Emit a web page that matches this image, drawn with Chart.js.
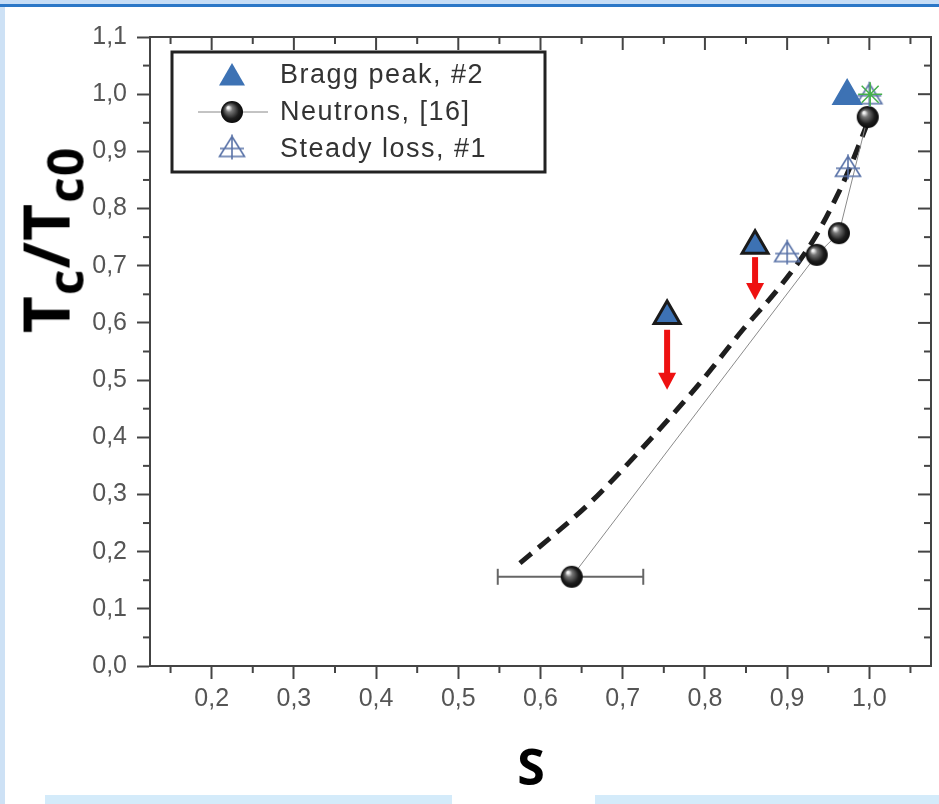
<!DOCTYPE html>
<html lang="en">
<head>
    <meta charset="UTF-8">
    <title>Tc/Tc0 vs S</title>
    <script src="https://cdn.jsdelivr.net/npm/chart.js"></script>
    <style>
        body { margin: 0; background: #fff; }
        #wrap { position: relative; width: 939px; height: 804px; overflow: hidden; }
        .deco { position: absolute; }
        #chart { position: absolute; left: 0; top: 0; }
        .axtitle {
            position: absolute; font-family: "Open Sans", sans-serif; font-weight: bold;
            color: #000; white-space: nowrap; line-height: 1;
        }
        #ytitle {
            left: 52px; top: 240px; font-size: 64px; letter-spacing: 1px;
            transform: translate(-50%, -50%) rotate(-90deg);
        }
        #ytitle sub { font-size: 78%; vertical-align: -0.28em; letter-spacing: 1px; }
        #xtitle { left: 531px; top: 766px; font-size: 50px; transform: translate(-50%, -50%); }
    </style>
</head>
<body>
<div id="wrap">
    <div class="deco" style="left:0;top:0;width:939px;height:4px;background:#c6ddf6"></div>
    <div class="deco" style="left:0;top:4px;width:939px;height:3px;background:#2b77c7"></div>
    <div class="deco" style="left:0;top:7px;width:5px;height:797px;background:#cde1f5"></div>
    <div class="deco" style="left:45px;top:795px;width:407px;height:9px;background:#d4ebfa"></div>
    <div class="deco" style="left:595px;top:795px;width:344px;height:9px;background:#d4ebfa"></div>
    <canvas id="chart" width="939" height="804"></canvas>
    <div id="ytitle" class="axtitle">T<sub>c</sub>/T<sub>c0</sub></div>
    <div id="xtitle" class="axtitle">S</div>
</div>

<script>
// axis ticks
const xTicks = [0.2, 0.3, 0.4, 0.5, 0.6, 0.7, 0.8, 0.9, 1.0];
const xMinor = [0.15, 0.25, 0.35, 0.45, 0.55, 0.65, 0.75, 0.85, 0.95, 1.05];
const yTicks = [0.0, 0.1, 0.2, 0.3, 0.4, 0.5, 0.6, 0.7, 0.8, 0.9, 1.0, 1.1];
const yMinor = [0.05, 0.15, 0.25, 0.35, 0.45, 0.55, 0.65, 0.75, 0.85, 0.95, 1.05];

const legendLabels = ['Bragg peak, #2', 'Neutrons, [16]', 'Steady loss, #1'];

// Bragg peak, #2
const braggX = [0.754, 0.861, 0.973];
const braggY = [0.612, 0.735, 0.997];

// Neutrons, [16]
const neutronX = [0.638, 0.936, 0.963, 0.998];
const neutronY = [0.156, 0.719, 0.757, 0.960];
const neutronErrLow = [0.548, null, null, null];
const neutronErrHigh = [0.725, null, null, null];

// Steady loss, #1
const steadyX = [0.900, 0.974, 1.000];
const steadyY = [0.724, 0.873, 1.000];

// green marker at top right
const starX = [1.001];
const starY = [1.000];

// thick dashed guide curve
const curveX = [0.575, 0.61, 0.66, 0.72, 0.794, 0.846, 0.891, 0.932, 0.964, 0.979, 0.996];
const curveY = [0.180, 0.222, 0.285, 0.375, 0.495, 0.588, 0.663, 0.745, 0.832, 0.881, 0.943];

// red arrows
const arrowX = [0.754, 0.861];
const arrowFrom = [0.588, 0.715];
const arrowTo = [0.483, 0.640];

const pts = (xs, ys) => xs.map((v, i) => ({ x: v, y: ys[i] }));
const fmt = v => v.toFixed(1).replace('.', ',');

// shaded sphere marker
function makeSphere(r) {
    const c = document.createElement('canvas');
    c.width = c.height = r * 2 + 2;
    const g = c.getContext('2d');
    const cx = r + 1, cy = r + 1;
    const grad = g.createRadialGradient(cx - r * 0.35, cy - r * 0.4, 1, cx, cy, r);
    grad.addColorStop(0, '#f2f2f2');
    grad.addColorStop(0.25, '#777');
    grad.addColorStop(0.7, '#1e1e1e');
    grad.addColorStop(1, '#0a0a0a');
    g.fillStyle = grad;
    g.beginPath(); g.arc(cx, cy, r, 0, Math.PI * 2); g.fill();
    return c;
}

// open triangle with cross marker
function makeSteady() {
    const c = document.createElement('canvas');
    c.width = 30; c.height = 27;
    const g = c.getContext('2d');
    g.strokeStyle = '#5a73a8';
    g.lineWidth = 1.6;
    g.beginPath();
    g.moveTo(15, 3); g.lineTo(27.5, 23); g.lineTo(2.5, 23); g.closePath();
    g.moveTo(15, 1); g.lineTo(15, 26);
    g.moveTo(3, 15); g.lineTo(27, 15);
    g.stroke();
    return c;
}

const sphere = makeSphere(11);
const steadyImg = makeSteady();

function line(ctx, x1, y1, x2, y2) {
    ctx.beginPath(); ctx.moveTo(x1, y1); ctx.lineTo(x2, y2); ctx.stroke();
}

// frame on top/right and the extra tick marks
const frameTicks = {
    id: 'frameTicks',
    beforeDatasetsDraw(chart) {
        const { ctx, chartArea: a, scales: { x, y } } = chart;
        ctx.save();
        ctx.strokeStyle = '#444';
        ctx.lineWidth = 2;
        ctx.beginPath();
        ctx.moveTo(a.left, a.top); ctx.lineTo(a.right, a.top); ctx.lineTo(a.right, a.bottom);
        ctx.stroke();
        xTicks.forEach(v => { const p = x.getPixelForValue(v); line(ctx, p, a.top, p, a.top + 13); });
        xMinor.forEach(v => {
            const p = x.getPixelForValue(v);
            line(ctx, p, a.bottom, p, a.bottom + 7);
            line(ctx, p, a.top, p, a.top + 7);
        });
        yTicks.forEach(v => { const p = y.getPixelForValue(v); line(ctx, a.right - 13, p, a.right, p); });
        yMinor.forEach(v => {
            const p = y.getPixelForValue(v);
            line(ctx, a.left - 7, p, a.left, p);
            line(ctx, a.right - 7, p, a.right, p);
        });
        ctx.restore();
    }
};

// horizontal error bars on neutron points
const errorBars = {
    id: 'errorBars',
    beforeDatasetsDraw(chart) {
        const { ctx, scales: { x, y } } = chart;
        ctx.save();
        ctx.strokeStyle = '#666';
        ctx.lineWidth = 2;
        neutronX.forEach((v, i) => {
            if (neutronErrLow[i] == null) return;
            const py = y.getPixelForValue(neutronY[i]);
            const x1 = x.getPixelForValue(neutronErrLow[i]);
            const x2 = x.getPixelForValue(neutronErrHigh[i]);
            line(ctx, x1, py, x2, py);
            line(ctx, x1, py - 8, x1, py + 8);
            line(ctx, x2, py - 8, x2, py + 8);
        });
        ctx.restore();
    }
};

// red downward arrows
const arrows = {
    id: 'arrows',
    afterDatasetsDraw(chart) {
        const { ctx, scales: { x, y } } = chart;
        ctx.save();
        ctx.fillStyle = '#ee1111';
        arrowX.forEach((v, i) => {
            const px = x.getPixelForValue(v);
            const y1 = y.getPixelForValue(arrowFrom[i]);
            const y2 = y.getPixelForValue(arrowTo[i]);
            const head = 17;
            ctx.fillRect(px - 3, y1, 6, y2 - y1 - head + 1);
            ctx.beginPath();
            ctx.moveTo(px - 9, y2 - head); ctx.lineTo(px + 9, y2 - head); ctx.lineTo(px, y2);
            ctx.closePath(); ctx.fill();
        });
        ctx.restore();
    }
};

// legend box inside the plot
const boxLegend = {
    id: 'boxLegend',
    afterDraw(chart) {
        const { ctx } = chart;
        const L = 172, T = 52, R = 545, B = 172;
        ctx.save();
        ctx.fillStyle = '#fff';
        ctx.fillRect(L, T, R - L, B - T);
        ctx.strokeStyle = '#222';
        ctx.lineWidth = 3;
        ctx.strokeRect(L, T, R - L, B - T);
        const mx = 232, rows = [75, 112, 149];
        // Bragg triangle
        const r = 15, cy = rows[0] + 3;
        ctx.fillStyle = '#3d72b4';
        ctx.beginPath();
        for (let k = 0; k < 3; k++) {
            const ang = k * 2 * Math.PI / 3;
            const px = mx + Math.sin(ang) * r, py = cy - Math.cos(ang) * r;
            k ? ctx.lineTo(px, py) : ctx.moveTo(px, py);
        }
        ctx.closePath(); ctx.fill();
        // neutron line + sphere
        ctx.strokeStyle = '#888'; ctx.lineWidth = 1;
        line(ctx, 198, rows[1], 268, rows[1]);
        ctx.drawImage(sphere, mx - sphere.width / 2, rows[1] - sphere.height / 2);
        // steady loss
        ctx.drawImage(steadyImg, mx - steadyImg.width / 2, rows[2] - 2 - steadyImg.height / 2);
        ctx.fillStyle = '#333';
        ctx.font = '27px "Liberation Sans", Arial, sans-serif';
        ctx.letterSpacing = '1.5px';
        ctx.textBaseline = 'middle';
        legendLabels.forEach((t, i) => ctx.fillText(t, 280, rows[i] + 1));
        ctx.restore();
    }
};

const ctx = document.getElementById('chart').getContext('2d');
new Chart(ctx, {
    type: 'scatter',
    data: {
        datasets: [
            {
                label: 'marker',
                data: pts(starX, starY),
                pointStyle: 'star',
                pointRadius: 12,
                borderColor: '#44b04a',
                backgroundColor: '#44b04a',
                borderWidth: 1.5,
                order: 0
            },
            {
                label: legendLabels[0],
                data: pts(braggX, braggY),
                pointStyle: 'triangle',
                pointRadius: 15,
                backgroundColor: '#3d72b4',
                borderColor: ['#1a1a1a', '#1a1a1a', '#3d72b4'],
                borderWidth: 3,
                order: 1
            },
            {
                label: legendLabels[2],
                data: pts(steadyX, steadyY),
                pointStyle: steadyImg,
                order: 2
            },
            {
                label: legendLabels[1],
                data: pts(neutronX, neutronY),
                showLine: true,
                borderColor: '#8a8a8a',
                borderWidth: 1,
                pointStyle: sphere,
                order: 3
            },
            {
                label: 'guide',
                data: pts(curveX, curveY),
                showLine: true,
                borderColor: '#1e1e1e',
                borderWidth: 5,
                borderDash: [15, 9],
                pointRadius: 0,
                tension: 0.4,
                cubicInterpolationMode: 'monotone',
                order: 4
            }
        ]
    },
    options: {
        responsive: false,
        animation: false,
        devicePixelRatio: 1,
        layout: { autoPadding: false, padding: { top: 37, right: 8, left: 0, bottom: 0 } },
        plugins: {
            legend: { display: false },
            tooltip: { enabled: false }
        },
        scales: {
            x: {
                type: 'linear',
                min: 0.125,
                max: 1.075,
                afterBuildTicks: s => { s.ticks = xTicks.map(v => ({ value: v })); },
                afterFit: s => { s.height = 138; },
                grid: { display: true, drawOnChartArea: false, drawTicks: true, tickLength: 13, tickColor: '#444', tickWidth: 2 },
                border: { display: true, color: '#444', width: 2 },
                ticks: {
                    callback: v => fmt(v),
                    color: '#555',
                    padding: 5,
                    maxRotation: 0,
                    font: { family: '"Liberation Sans", Arial, sans-serif', size: 25 }
                }
            },
            y: {
                type: 'linear',
                min: 0,
                max: 1.1,
                afterBuildTicks: s => { s.ticks = yTicks.map(v => ({ value: v })); },
                afterFit: s => { s.width = 150; },
                grid: { display: true, drawOnChartArea: false, drawTicks: true, tickLength: 13, tickColor: '#444', tickWidth: 2 },
                border: { display: true, color: '#444', width: 2 },
                ticks: {
                    callback: v => fmt(v),
                    color: '#555',
                    padding: 10,
                    font: { family: '"Liberation Sans", Arial, sans-serif', size: 25 }
                }
            }
        }
    },
    plugins: [frameTicks, errorBars, arrows, boxLegend]
});
</script>
</body>
</html>
